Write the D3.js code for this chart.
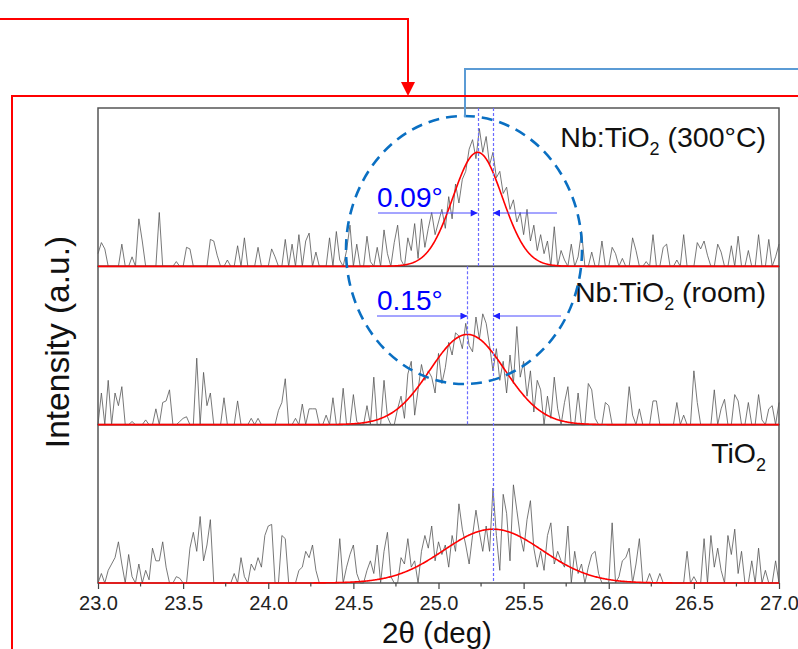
<!DOCTYPE html>
<html>
<head>
<meta charset="utf-8">
<script src="https://cdn.jsdelivr.net/npm/d3@7"></script>
<style>
  html, body { margin: 0; padding: 0; background: #fff; }
  svg { display: block; font-family: Arial, "Liberation Sans", Helvetica, sans-serif; }
</style>
</head>
<body>
<svg id="chart" width="798" height="649"></svg>
<script>
// 2θ grid: 23.00 to 27.00 in steps of 0.02 deg (201 points per scan)
const thetaStart = 23.0;
const thetaStep = 0.02;

// Measured XRD intensities (a.u.), anatase (101) region
const scan300C = [
  8,15,11,0,0,0,0,14,0,0,
  6,0,30,16,0,0,0,0,34,0,
  0,0,0,3,0,0,12,11,0,0,
  0,0,0,17,16,7,0,0,4,0,
  0,13,0,18,0,0,0,12,0,0,
  0,11,6,0,0,17,0,14,0,20,
  0,16,21,0,9,0,0,0,18,0,
  22,4,0,10,26,0,14,0,0,19,
  3,0,12,0,23,8,0,15,26,4,
  0,18,10,27,5,30,12,24,34,20,
  28,36,24,44,30,52,40,55,60,74,
  80,68,87,72,82,64,72,56,60,46,
  50,36,42,28,34,20,36,16,26,10,
  20,8,16,0,25,0,10,4,0,14,
  0,6,22,0,0,9,0,0,16,0,
  0,12,8,0,5,0,0,18,10,0,
  0,3,0,20,0,0,12,14,0,0,
  4,0,20,0,0,0,15,11,16,7,
  0,0,14,9,0,0,13,0,19,0,
  0,10,0,0,20,0,0,17,0,6,
  14
];
const scanRoom = [
  0,20,0,28,0,20,12,24,0,0,
  2,0,0,0,3,0,0,10,0,14,
  15,22,0,0,2,4,5,0,0,42,
  0,33,12,20,0,0,0,17,0,0,
  0,15,0,0,0,4,0,4,0,0,
  0,0,0,9,14,29,0,0,4,0,
  13,0,10,10,10,0,0,6,0,17,
  0,0,23,0,0,19,2,0,0,12,
  0,30,0,0,28,5,0,0,10,18,
  4,32,40,6,22,38,28,34,30,20,
  45,26,36,52,44,58,56,48,64,50,
  46,68,54,70,64,50,34,48,28,40,
  20,44,26,62,30,40,18,34,8,28,
  22,0,18,4,30,10,0,14,24,0,
  0,20,0,0,26,22,4,0,0,14,
  12,0,0,0,0,0,24,6,0,10,
  0,0,0,15,15,0,0,0,0,0,
  14,0,6,0,0,34,14,0,0,0,
  0,22,0,10,16,0,0,19,15,0,
  0,14,0,0,19,3,0,10,12,0,
  14
];
const scanTiO2 = [
  0,6,0,8,12,16,26,12,0,18,
  4,0,12,0,8,2,22,14,14,26,
  10,0,0,4,3,0,0,22,32,20,
  42,14,24,40,0,0,0,0,0,0,
  6,0,16,4,0,12,8,16,10,30,
  36,37,0,0,30,28,0,0,0,8,
  10,20,16,24,8,0,0,0,0,0,
  0,28,0,10,18,24,6,0,0,8,
  14,6,24,0,20,32,4,0,0,16,
  12,28,10,14,0,20,30,22,36,14,
  26,18,24,10,30,20,50,34,24,12,
  30,46,32,20,36,20,60,30,8,56,
  44,14,62,46,30,20,40,52,22,10,
  20,8,30,38,12,20,14,10,36,0,
  20,6,12,0,10,18,20,6,0,0,
  0,38,0,4,14,16,22,0,12,28,
  0,0,6,0,0,6,0,0,0,0,
  0,0,0,20,0,4,0,0,28,0,
  30,10,22,8,0,30,18,34,6,20,
  0,0,14,0,22,0,8,0,0,14,
  0
];

// Gaussian fit parameters per sample: centre (deg), amplitude (a.u.), sigma (deg)
const sampleNames = ["Nb:TiO2 (300°C)", "Nb:TiO2 (room)", "TiO2"];
const fitCentre = [25.23, 25.17, 25.32];
const fitAmplitude = [72, 57, 34];
const fitSigma = [0.145, 0.22, 0.29];

// Peak shifts relative to undoped TiO2
const shiftLabels = ["0.09°", "0.15°"];

// Axis ticks
const majorTicks = [23.0, 23.5, 24.0, 24.5, 25.0, 25.5, 26.0, 26.5, 27.0];
const minorTicks = [23.25, 23.75, 24.25, 24.75, 25.25, 25.75, 26.25, 26.75];
const xLabel = "2θ (deg)";
const yLabel = "Intensity (a.u.)";

const scans = [scan300C, scanRoom, scanTiO2];

const svg = d3.select("#chart");
const L = 98, R = 779, T = 108, B = 583;
const panelH = (B - T) / 3;

const x = d3.scaleLinear().domain([23, 27]).range([L, R]);
const yScales = [0, 1, 2].map(k =>
  d3.scaleLinear().domain([0, 100]).range([T + (k + 1) * panelH, T + k * panelH]));

// Panel frames
for (let k = 0; k < 3; k++) {
  svg.append("rect")
    .attr("x", L).attr("y", T + k * panelH)
    .attr("width", R - L).attr("height", panelH)
    .attr("fill", "none").attr("stroke", "#555").attr("stroke-width", 1.5);
}

// Raw scans
scans.forEach((scan, k) => {
  const y = yScales[k];
  const line = d3.line()
    .x((d, i) => x(thetaStart + i * thetaStep))
    .y(d => y(d));
  svg.append("path")
    .datum(scan)
    .attr("d", line)
    .attr("fill", "none")
    .attr("stroke", "#555")
    .attr("stroke-width", 0.8);
});

// Gaussian fits
const fitGrid = d3.range(23, 27.0001, 0.005);
[0, 1, 2].forEach(k => {
  const y = yScales[k];
  const g = t => fitAmplitude[k] * Math.exp(-0.5 * Math.pow((t - fitCentre[k]) / fitSigma[k], 2));
  svg.append("path")
    .datum(fitGrid)
    .attr("d", d3.line().x(t => x(t)).y(t => y(g(t))))
    .attr("fill", "none")
    .attr("stroke", "#ff0000")
    .attr("stroke-width", 1.6);
});

// Dotted guide lines through the fitted peak centres
const guide = (xv, y0, y1) => {
  const px = Math.round(x(xv)) + 0.5;
  svg.append("line")
    .attr("x1", px).attr("x2", px)
    .attr("y1", y0).attr("y2", y1)
    .attr("stroke", "#6b6bff").attr("stroke-width", 1.2)
    .attr("stroke-dasharray", "3,2");
};
guide(fitCentre[0], T, T + panelH);
guide(fitCentre[1], T + panelH, T + 2 * panelH);
guide(fitCentre[2], T, B);

// Shift arrows and labels
const defs = svg.append("defs");
defs.append("marker")
  .attr("id", "blueHead")
  .attr("viewBox", "0 0 10 10")
  .attr("refX", 10).attr("refY", 5)
  .attr("markerWidth", 9).attr("markerHeight", 7)
  .attr("markerUnits", "userSpaceOnUse")
  .attr("orient", "auto")
  .append("path").attr("d", "M0,0L10,5L0,10Z").attr("fill", "#2020ff");

const arrowRows = [
  { yPos: 213, from: 378, to: fitCentre[0], back: 557, label: shiftLabels[0], labelY: 207 },
  { yPos: 316, from: 377, to: fitCentre[1], back: 561, label: shiftLabels[1], labelY: 310 }
];
arrowRows.forEach(a => {
  svg.append("line")
    .attr("x1", a.from).attr("x2", x(a.to))
    .attr("y1", a.yPos).attr("y2", a.yPos)
    .attr("stroke", "#4a4aff").attr("stroke-width", 1)
    .attr("marker-end", "url(#blueHead)");
  svg.append("line")
    .attr("x1", a.back).attr("x2", x(fitCentre[2]))
    .attr("y1", a.yPos).attr("y2", a.yPos)
    .attr("stroke", "#4a4aff").attr("stroke-width", 1)
    .attr("marker-end", "url(#blueHead)");
  svg.append("text")
    .attr("x", 377).attr("y", a.labelY)
    .attr("font-size", 28).attr("fill", "#0000ff")
    .text(a.label);
});

// Sample labels with subscript
const labelBaselines = [147, 302, 463];
sampleNames.forEach((name, k) => {
  const parts = name.split("2");
  const t = svg.append("text")
    .attr("x", 766).attr("y", labelBaselines[k])
    .attr("text-anchor", "end")
    .attr("font-size", 28.5).attr("fill", "#111");
  t.append("tspan").text(parts[0]);
  t.append("tspan").attr("font-size", 18).attr("dy", 8).text("2");
  t.append("tspan").attr("dy", -8).text(parts.slice(1).join("2"));
});

// Bottom axis
const axisG = svg.append("g").attr("transform", `translate(0,${B})`);
axisG.call(d3.axisBottom(x).tickValues(majorTicks).tickFormat(d3.format(".1f")).tickSize(6).tickSizeOuter(0))
  .call(g => g.select(".domain").remove())
  .call(g => g.selectAll(".tick line").attr("stroke", "#444").attr("stroke-width", 1.2))
  .call(g => g.selectAll(".tick text").attr("font-size", 20).attr("fill", "#222")
    .attr("font-family", "Arial, 'Liberation Sans', sans-serif").attr("dy", "0.92em"));
axisG.selectAll(".minor").data(minorTicks).enter().append("line")
  .attr("x1", d => x(d)).attr("x2", d => x(d))
  .attr("y1", 0).attr("y2", 3.5)
  .attr("stroke", "#444").attr("stroke-width", 1.2);

svg.append("text")
  .attr("x", 437).attr("y", 643)
  .attr("text-anchor", "middle")
  .attr("font-size", 29.5).attr("fill", "#111")
  .text(xLabel);

svg.append("text")
  .attr("transform", "translate(69,342) rotate(-90)")
  .attr("text-anchor", "middle")
  .attr("font-size", 33.5).attr("fill", "#111")
  .text(yLabel);

// Dashed highlight ellipse around the peak shift region
svg.append("ellipse")
  .attr("cx", 464).attr("cy", 250)
  .attr("rx", 118).attr("ry", 134)
  .attr("fill", "none")
  .attr("stroke", "#0a6fc2").attr("stroke-width", 2.6)
  .attr("stroke-dasharray", "11,7");

// Callout connectors
svg.append("polyline")
  .attr("points", "465,117 465,69 798,69")
  .attr("fill", "none").attr("stroke", "#5b9bd5").attr("stroke-width", 2);

svg.append("polyline")
  .attr("points", "0,19 408,19 408,84")
  .attr("fill", "none").attr("stroke", "#ff0000").attr("stroke-width", 2);
svg.append("path")
  .attr("d", "M401,82L415,82L408,96Z")
  .attr("fill", "#ff0000");
svg.append("polyline")
  .attr("points", "12,649 12,96 798,96")
  .attr("fill", "none").attr("stroke", "#ff0000").attr("stroke-width", 2);
</script>
</body>
</html>
